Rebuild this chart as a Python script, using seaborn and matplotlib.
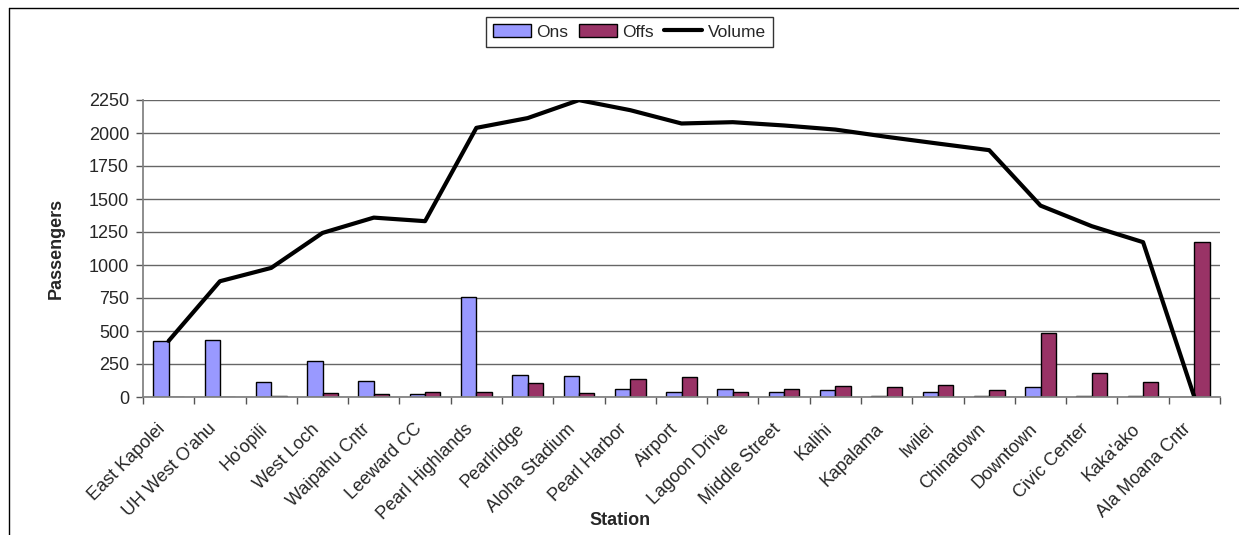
import numpy as np
import pandas as pd
import matplotlib
matplotlib.use("Agg")
import matplotlib.pyplot as plt
import seaborn as sns
from matplotlib.lines import Line2D
from matplotlib.patches import Patch

stations = ["East Kapolei", "UH West O'ahu", "Ho'opili", "West Loch", "Waipahu Cntr",
            "Leeward CC", "Pearl Highlands", "Pearlridge", "Aloha Stadium", "Pearl Harbor",
            "Airport", "Lagoon Drive", "Middle Street", "Kalihi", "Kapalama", "Iwilei",
            "Chinatown", "Downtown", "Civic Center", "Kaka'ako", "Ala Moana Cntr"]
ons = [425, 435, 114, 273, 124, 20, 756, 167, 157, 61, 38,
       61, 40, 51, 10, 40, 10, 73, 10, 10, 0]
offs = [0, 0, 10, 30, 20, 40, 40, 104, 30, 136, 149,
        40, 61, 86, 73, 94, 51, 488, 180, 116, 1173]
volume = [425, 877, 978, 1243, 1359, 1332, 2039, 2113, 2249, 2173, 2072,
          2082, 2057, 2026, 1971, 1920, 1870, 1450, 1294, 1173, 0]
yticks = [0, 250, 500, 750, 1000, 1250, 1500, 1750, 2000, 2250]

sns.set_theme(style="white")
plt.rcParams['font.family'] = ['Liberation Sans', 'DejaVu Sans']
fs = 13

df = pd.DataFrame({
    "Station": stations * 2,
    "Passengers": ons + offs,
    "Series": ["Ons"] * len(stations) + ["Offs"] * len(stations),
})

fig = plt.figure(figsize=(12.39, 5.35), dpi=100)
ax = fig.add_axes([143 / 1239, 1 - 397 / 535, (1220 - 143) / 1239, (397 - 100) / 535])

ax.set_axisbelow(True)
ax.yaxis.grid(True, color="#666666", linewidth=1)

sns.barplot(data=df, x="Station", y="Passengers", hue="Series",
            palette={"Ons": "#9999FF", "Offs": "#993366"},
            edgecolor="black", linewidth=1, width=0.6, saturation=1,
            legend=False, ax=ax)
sns.lineplot(x=np.arange(len(stations)), y=volume, color="black",
             linewidth=3, ax=ax)

ax.set_ylim(0, 2250)
ax.set_xlim(-0.5, len(stations) - 0.5)
ax.set_yticks(yticks)
ax.set_yticklabels([str(v) for v in yticks], fontsize=fs)

ax.set_xticks(np.arange(len(stations)))
ax.set_xticklabels(stations, rotation=45, ha="right", va="top", fontsize=fs)
ax.set_xticks(np.arange(len(stations) + 1) - 0.5, minor=True)
ax.tick_params(axis="x", which="major", length=0, pad=17)
ax.tick_params(axis="x", which="minor", length=5, color="#555555", width=1, bottom=True)
ax.tick_params(axis="y", length=5, color="#555555", width=1, left=True, pad=5)

for s in ["top", "right"]:
    ax.spines[s].set_visible(False)
ax.spines["left"].set_color("#808080")
ax.spines["bottom"].set_color("#808080")

ax.set_xlabel("Station", fontsize=fs, fontweight="bold")
ax.xaxis.set_label_coords(0.443, -0.4175)
ax.xaxis.label.set_va("center")
ax.set_ylabel("Passengers", fontsize=fs, fontweight="bold", labelpad=17.5)

handles = [Patch(facecolor="#9999FF", edgecolor="black", label="Ons"),
           Patch(facecolor="#993366", edgecolor="black", label="Offs"),
           Line2D([0], [0], color="black", linewidth=3, label="Volume")]
leg = fig.legend(handles=handles, loc="upper center", bbox_to_anchor=(0.508, 1 - 17 / 535),
                 ncol=3, frameon=True, fancybox=False, fontsize=12.5,
                 handlelength=2.2, handletextpad=0.3, columnspacing=0.6,
                 borderpad=0.4, handleheight=0.8, borderaxespad=0)
leg.get_frame().set_edgecolor("black")
leg.get_frame().set_linewidth(1)

# outer chart border (cut off at right and bottom)
fig.add_artist(Line2D([9 / 1239, 1], [1 - 8 / 535, 1 - 8 / 535], color="black",
                      linewidth=1, transform=fig.transFigure))
fig.add_artist(Line2D([9 / 1239, 9 / 1239], [0, 1 - 8 / 535], color="black",
                      linewidth=1, transform=fig.transFigure))

fig.savefig("out.png", dpi=100)
